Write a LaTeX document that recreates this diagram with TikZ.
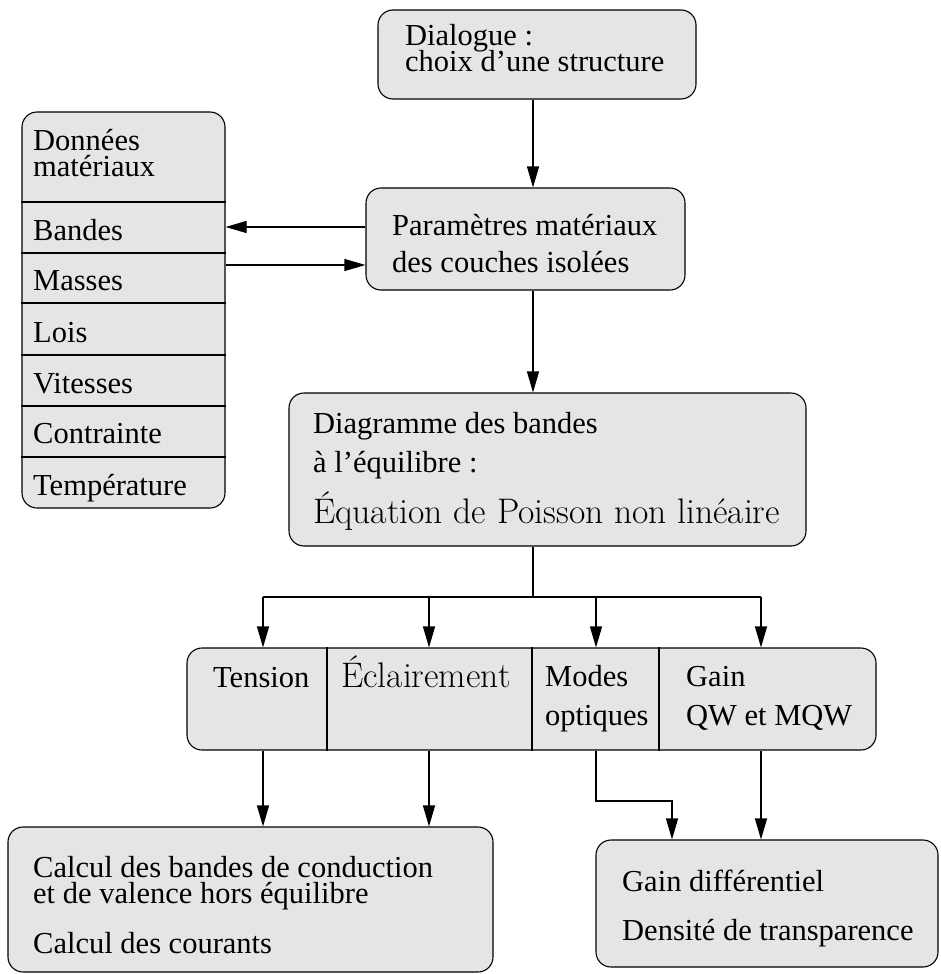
\documentclass[tikz,border=0pt]{standalone}
\usepackage{fontspec}
\setmainfont{Liberation Serif}
\newfontfamily\lmr{Latin Modern Roman}
\usetikzlibrary{arrows.meta}
\definecolor{boxgray}{HTML}{E5E5E5}
\begin{document}
\begin{tikzpicture}[x=1pt,y=-1pt,
  box/.style={draw, line width=1.1pt, fill=boxgray, rounded corners=15pt, inner sep=0pt},
  txt/.style={anchor=base west, inner sep=0pt, font=\rmfamily\fontsize{30.5}{30}\selectfont},
  cmtxt/.style={anchor=base west, inner sep=0pt, font=\lmr\fontsize{35.5}{36}\selectfont},
  arr/.style={-{Triangle[length=21pt,width=12pt]}, line width=1.1pt},
  ln/.style={line width=1.1pt}]
\useasboundingbox (0,0) rectangle (940,974);

% boxes
\node[box, minimum width=318pt, minimum height=89pt] (dlg) at (537,54.5) {};
\node[box, minimum width=319pt, minimum height=102pt] (par) at (525.5,239) {};
\node[box, minimum width=203pt, minimum height=396pt] (stack) at (123.5,310) {};
\node[box, minimum width=517pt, minimum height=153pt] (diag) at (547.5,469.5) {};
\node[box, minimum width=689pt, minimum height=102pt] (row) at (531.5,699) {};
\node[box, minimum width=485pt, minimum height=145pt] (calc) at (250.5,899.5) {};
\node[box, minimum width=342pt, minimum height=127pt] (gain) at (767,903.5) {};

% stack dividers
\foreach \yy in {202,253,303,355,406,457}
  \draw[ln] (stack.west |- 0,\yy) -- (stack.east |- 0,\yy);
% row dividers
\foreach \xx in {327,532,659}
  \draw[ln] (\xx,0 |- row.north) -- (\xx,0 |- row.south);

% texts
\node[txt] (t1) at (405,46) {Dialogue :};
\node[txt] (t2) at (405,71) {choix d’une structure};
\node[txt] (t3) at (392,235) {Paramètres matériaux};
\node[txt] (t4) at (392,272) {des couches isolées};
\node[txt] (s1) at (33,150) {Données};
\node[txt] (s2) at (33,176) {matériaux};
\node[txt] (s3) at (33,240) {Bandes};
\node[txt] (s4) at (33,290) {Masses};
\node[txt] (s5) at (33,342) {Lois};
\node[txt] (s6) at (33,393) {Vitesses};
\node[txt] (s7) at (33,443) {Contrainte};
\node[txt] (s8) at (33,495) {Température};
\node[txt] (d1) at (313,433) {Diagramme des bandes};
\node[txt] (d2) at (313,472) {à l’équilibre :};
\node[cmtxt] (d3) at (313,523) {Équation de Poisson non linéaire};
\node[txt] (r1) at (213,687) {Tension};
\node[cmtxt] (r2) at (341,687) {Éclairement};
\node[txt] (r3) at (545,686) {Modes};
\node[txt] (r4) at (545,725) {optiques};
\node[txt] (r5) at (686,686) {Gain};
\node[txt] (r6) at (686,725) {QW et MQW};
\node[txt] (c1) at (33,877) {Calcul des bandes de conduction};
\node[txt] (c2) at (33,903) {et de valence hors équilibre};
\node[txt] (c3) at (33,953) {Calcul des courants};
\node[txt] (g1) at (622,891) {Gain différentiel};
\node[txt] (g2) at (622,940) {Densité de transparence};

% connectors
\coordinate (ax) at (533,0);
\draw[arr] (ax |- dlg.south) -- (ax |- par.north);
\draw[arr] (par.west |- 0,227) -- (stack.east |- 0,227);
\draw[arr] (stack.east |- 0,265) -- (par.west |- 0,265);
\draw[arr] (ax |- par.south) -- (ax |- diag.north);
\coordinate (bus) at (0,597);
\draw[ln] (ax |- diag.south) -- (ax |- bus);
\draw[ln] (263,0 |- bus) -- (761,0 |- bus);
\foreach \xx in {263,429,596,761}
  \draw[arr] (\xx,0 |- bus) -- (\xx,0 |- row.north);
\foreach \xx in {263,429}
  \draw[arr] (\xx,0 |- row.south) -- (\xx,0 |- calc.north);
\coordinate (bend) at (0,801);
\draw[arr] (596,0 |- row.south) -- (596,0 |- bend) -- (672,0 |- bend) -- (672,0 |- gain.north);
\draw[arr] (761,0 |- row.south) -- (761,0 |- gain.north);
\end{tikzpicture}
\end{document}
